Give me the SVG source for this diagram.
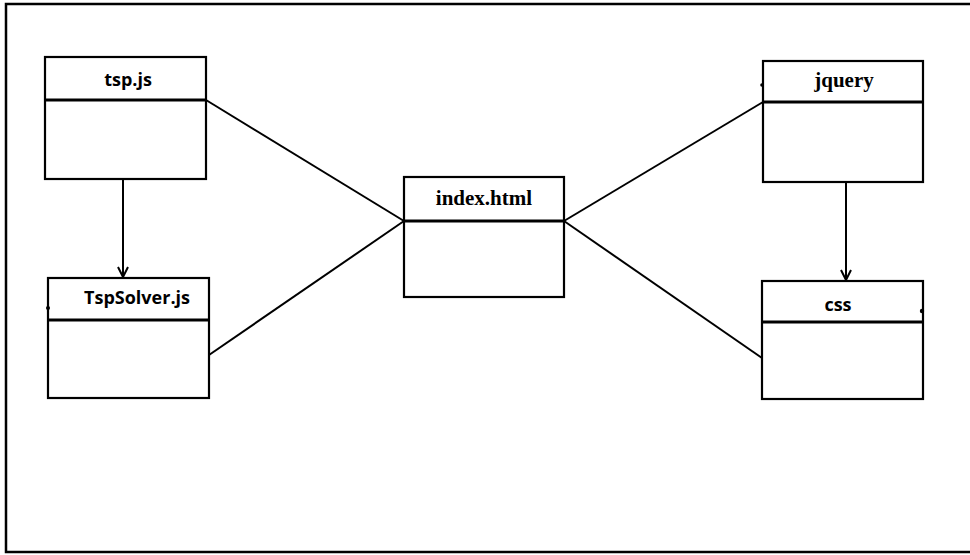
<svg xmlns="http://www.w3.org/2000/svg" width="970" height="555" viewBox="0 0 970 555">
  <style>
    .frame { fill: #fff; stroke: #000; stroke-width: 2.5; }
    .box { fill: #fff; stroke: #000; stroke-width: 2.2; }
    .div { stroke: #000; stroke-width: 3; }
    .link { fill: none; stroke: #000; stroke-width: 2; }
    .serif { font-family: "Liberation Serif", "Times New Roman", serif; font-weight: bold; font-size: 21px; text-anchor: middle; fill: #000; }
    .sans { font-family: "Open Sans", "Liberation Sans", sans-serif; font-weight: bold; font-size: 18px; text-anchor: middle; fill: #000; }
  </style>
  <defs>
    <marker id="open-arrow" viewBox="0 0 12 12" refX="11" refY="6" markerWidth="12" markerHeight="12" markerUnits="userSpaceOnUse" orient="auto">
      <path d="M1,1 L11,6 L1,11" fill="none" stroke="#000" stroke-width="2"/>
    </marker>
  </defs>

  <rect class="frame" x="6" y="4" width="966" height="548"/>

  <g id="connectors">
    <line class="link" x1="206" y1="100" x2="404" y2="221"/>
    <line class="link" x1="209" y1="355" x2="404" y2="221"/>
    <line class="link" x1="564" y1="221" x2="763" y2="102"/>
    <line class="link" x1="564" y1="221" x2="762" y2="358"/>
    <line class="link" x1="123" y1="179" x2="123" y2="277" marker-end="url(#open-arrow)"/>
    <line class="link" x1="846" y1="182" x2="846" y2="280" marker-end="url(#open-arrow)"/>
  </g>

  <g id="tsp-js">
    <rect class="box" x="45" y="57" width="161" height="122"/>
    <line class="div" x1="45" y1="100" x2="206" y2="100"/>
    <text class="sans" x="128" y="86">tsp.js</text>
  </g>

  <g id="tspsolver-js">
    <rect class="box" x="48" y="278" width="161" height="120"/>
    <line class="div" x1="48" y1="320" x2="209" y2="320"/>
    <circle cx="48" cy="308" r="2" fill="#000"/>
    <text class="sans" x="137" y="304">TspSolver.js</text>
  </g>

  <g id="index-html">
    <rect class="box" x="404" y="177" width="160" height="120"/>
    <line class="div" x1="404" y1="221" x2="564" y2="221"/>
    <text class="serif" x="484" y="205">index.html</text>
  </g>

  <g id="jquery">
    <rect class="box" x="763" y="61" width="160" height="121"/>
    <line class="div" x1="763" y1="102" x2="923" y2="102"/>
    <circle cx="762" cy="85" r="1.8" fill="#000"/>
    <text class="serif" x="844" y="87">jquery</text>
  </g>

  <g id="css">
    <rect class="box" x="762" y="281" width="161" height="118"/>
    <line class="div" x1="762" y1="322" x2="923" y2="322"/>
    <circle cx="922" cy="311" r="2.2" fill="#000"/>
    <text class="sans" x="838" y="311">css</text>
  </g>
</svg>
